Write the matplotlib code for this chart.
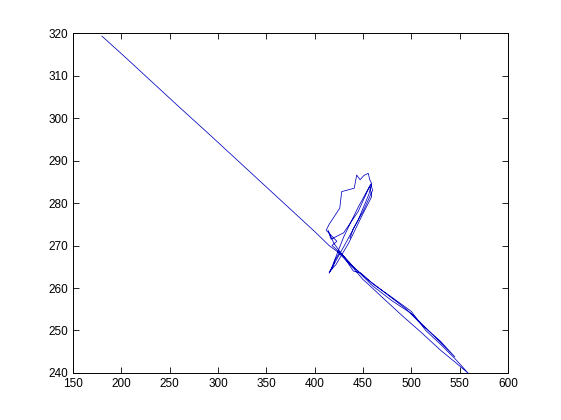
import matplotlib
matplotlib.use("Agg")
import matplotlib.pyplot as plt

# trajectory (x, y)
path_x = [180, 200, 230, 260, 290, 320, 350, 380, 400, 415, 425, 440, 450, 455, 470, 490, 510, 530, 545, 558.6,
          545, 530, 515, 500, 480, 460, 448, 440, 430, 422, 418, 423, 412, 415, 426, 428, 441, 443.5, 447, 451,
          455.5, 457, 459, 456, 445, 432, 421, 415, 418, 430, 445, 457, 459, 450, 435, 422, 416, 418, 421, 426, 440, 460, 480, 500, 520, 545,
          530, 510, 495, 475, 455, 440, 428, 420, 416, 414, 417, 430, 445, 458, 460, 450, 440, 436.5]
path_y = [319.3, 315.2, 308.9, 302.6, 296.4, 290.1, 283.8, 277.5, 273.3, 270.0, 268.3, 264.7, 262.0, 261.0, 257.8, 253.6, 249.6, 245.4, 242.6, 240.0,
          243.4, 246.8, 250.0, 254.5, 257.8, 261.0, 263.5, 264.0, 267.4, 269.2, 270.0, 271.0, 273.6, 275.0, 278.8, 282.7, 283.5, 286.6, 285.5, 286.5,
          287.0, 285.5, 284.6, 282.0, 276.0, 270.5, 266.0, 263.5, 265.0, 272.0, 279.0, 284.0, 281.5, 277.5, 270.5, 265.5, 264.0, 264.5, 266.5, 268.5, 265.0, 260.5, 257.0, 254.0, 249.5, 243.8,
          247.5, 251.5, 255.0, 258.5, 262.0, 265.0, 268.0, 270.5, 272.5, 273.5, 271.5, 273.0, 278.0, 284.5, 283.0, 278.0, 274.0, 271.7]

x_ticks = [150, 200, 250, 300, 350, 400, 450, 500, 550, 600]
y_ticks = [240, 250, 260, 270, 280, 290, 300, 310, 320]

plt.rcParams['font.family'] = ['Liberation Sans', 'DejaVu Sans']
fig = plt.figure(figsize=(5.61, 4.20), dpi=100)
ax = fig.add_axes([0.130, 0.112, 0.7755, 0.809])
ax.plot(path_x, path_y, color='#0000c0', linewidth=0.55)
ax.set_xlim(150, 600)
ax.set_ylim(240, 320)
ax.set_xticks(x_ticks)
ax.set_yticks(y_ticks)
ax.tick_params(direction='in', top=True, right=True, labelsize=8.5, length=4, width=0.6)
for s in ax.spines.values():
    s.set_linewidth(0.7)
fig.savefig("out.png", dpi=100)
